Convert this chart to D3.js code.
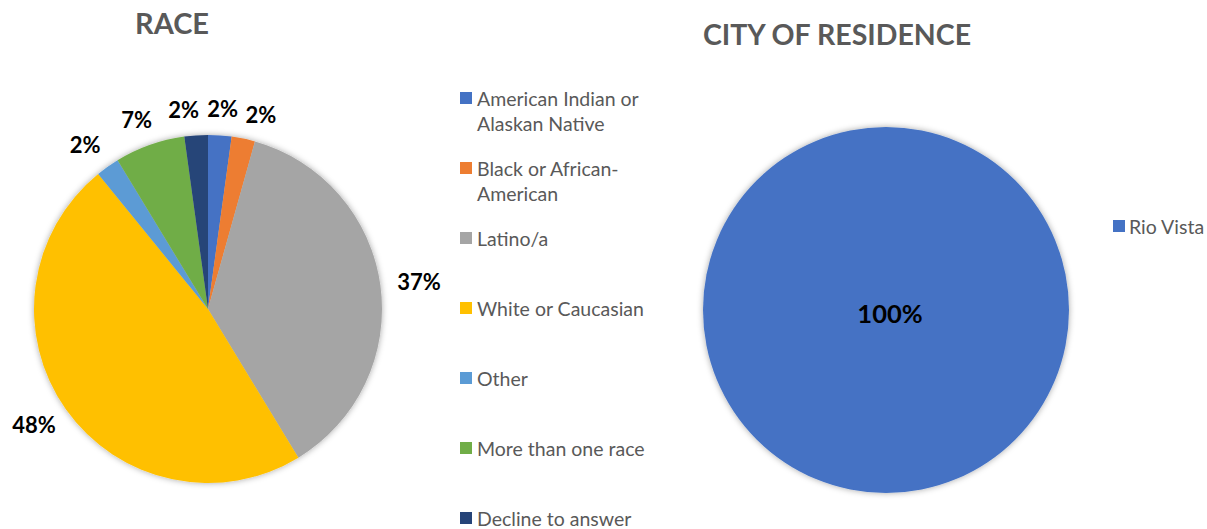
<!DOCTYPE html>
<html>
<head>
<script src="https://d3js.org/d3.v7.min.js"></script>
<style>
  body { margin: 0; background: #fff; }
  text { font-family: Lato, "Open Sans", sans-serif; }
  .title { font-weight: bold; fill: #595959; }
  .legend text { font-size: 19.5px; fill: #595959; }
  .lbl { font-size: 22px; font-weight: bold; fill: #000; }
</style>
</head>
<body>
<svg width="1207" height="529"></svg>
<script>
// race breakdown (counts, shown as percent of total)
const raceCats = ["American Indian or Alaskan Native", "Black or African-American", "Latino/a",
  "White or Caucasian", "Other", "More than one race", "Decline to answer"];
const raceVals = [1, 1, 17, 22, 1, 3, 1];
const raceColors = ["#4472C4", "#ED7D31", "#A5A5A5", "#FFC000", "#5B9BD5", "#70AD47", "#264478"];
const raceLegendLines = [["American Indian or", "Alaskan Native"], ["Black or African-", "American"],
  ["Latino/a"], ["White or Caucasian"], ["Other"], ["More than one race"], ["Decline to answer"]];

const cityCats = ["Rio Vista"];
const cityVals = [46];
const cityColors = ["#4472C4"];

const svg = d3.select("svg");

const defs = svg.append("defs");
defs.append("filter").attr("id", "shadow")
  .attr("x", "-10%").attr("y", "-10%").attr("width", "120%").attr("height", "120%")
  .append("feDropShadow")
  .attr("dx", 0).attr("dy", 0).attr("stdDeviation", 3)
  .attr("flood-color", "#000").attr("flood-opacity", 0.35);

const pie = d3.pie().sort(null).value(d => d);
const fmt = d3.format(".0%");

// ---- left: race ----
const r1 = 174, c1 = { x: 208, y: 309 };
const g1 = svg.append("g").attr("transform", `translate(${c1.x},${c1.y})`);
const arcs1 = pie(raceVals);
const total1 = d3.sum(raceVals);
const arc1 = d3.arc().innerRadius(0).outerRadius(r1);

g1.append("g").attr("filter", "url(#shadow)")
  .selectAll("path").data(arcs1).enter().append("path")
  .attr("d", arc1)
  .attr("fill", (d, i) => raceColors[i]);

// label angles, spread apart so the thin slices don't collide
let lab = arcs1.map((d, i) => {
  let a = (d.startAngle + d.endAngle) / 2;
  if (a > Math.PI) a -= 2 * Math.PI;
  return { i, a, v: d.value };
}).sort((p, q) => p.a - q.a);
const minGap = 10.5 * Math.PI / 180;
for (let k = 0; k < 200; k++) {
  for (let j = 0; j < lab.length - 1; j++) {
    const gap = lab[j + 1].a - lab[j].a;
    if (gap < minGap) {
      const push = (minGap - gap) / 2;
      lab[j].a -= push;
      lab[j + 1].a += push;
    }
  }
}
// outside-end: the label box sits just outside the rim
const labR = r1 + 17, halfW = 22, halfH = 10;
g1.selectAll("text.lbl").data(lab).enter().append("text")
  .attr("class", "lbl")
  .attr("x", d => (labR + halfW) * Math.sin(d.a))
  .attr("y", d => -(labR + halfH) * Math.cos(d.a))
  .attr("text-anchor", "middle")
  .attr("dominant-baseline", "central")
  .text(d => fmt(d.v / total1));

svg.append("text").attr("class", "title").style("font-size", "29px")
  .attr("x", 172).attr("y", 34).attr("text-anchor", "middle").text("RACE");

// legend for race
const ly = d3.scalePoint().domain(raceCats).range([98, 518]);
const leg1 = svg.append("g").attr("class", "legend");
raceCats.forEach((c, i) => {
  const y = ly(c);
  leg1.append("rect").attr("x", 460).attr("y", y - 6).attr("width", 12).attr("height", 12)
    .attr("fill", raceColors[i]);
  raceLegendLines[i].forEach((t, k) => {
    leg1.append("text").attr("x", 477).attr("y", y + k * 25.5)
      .attr("dominant-baseline", "central").text(t);
  });
});

// ---- right: city ----
const r2 = 183, c2 = { x: 886, y: 310 };
const g2 = svg.append("g").attr("transform", `translate(${c2.x},${c2.y})`);
const arcs2 = pie(cityVals);
const total2 = d3.sum(cityVals);
g2.append("g").attr("filter", "url(#shadow)")
  .selectAll("path").data(arcs2).enter().append("path")
  .attr("d", d3.arc().innerRadius(0).outerRadius(r2))
  .attr("fill", (d, i) => cityColors[i]);
g2.selectAll("text.lbl").data(arcs2).enter().append("text")
  .attr("class", "lbl").style("font-size", "25.5px")
  .attr("x", 4).attr("y", 3)
  .attr("text-anchor", "middle").attr("dominant-baseline", "central")
  .text(d => fmt(d.value / total2));

svg.append("text").attr("class", "title").style("font-size", "28.5px")
  .attr("x", 837).attr("y", 45).attr("text-anchor", "middle").text("CITY OF RESIDENCE");

const leg2 = svg.append("g").attr("class", "legend");
cityCats.forEach((c, i) => {
  leg2.append("rect").attr("x", 1113).attr("y", 220).attr("width", 12).attr("height", 12)
    .attr("fill", cityColors[i]);
  leg2.append("text").attr("x", 1129).attr("y", 226).attr("dominant-baseline", "central").text(c);
});
</script>
</body>
</html>
